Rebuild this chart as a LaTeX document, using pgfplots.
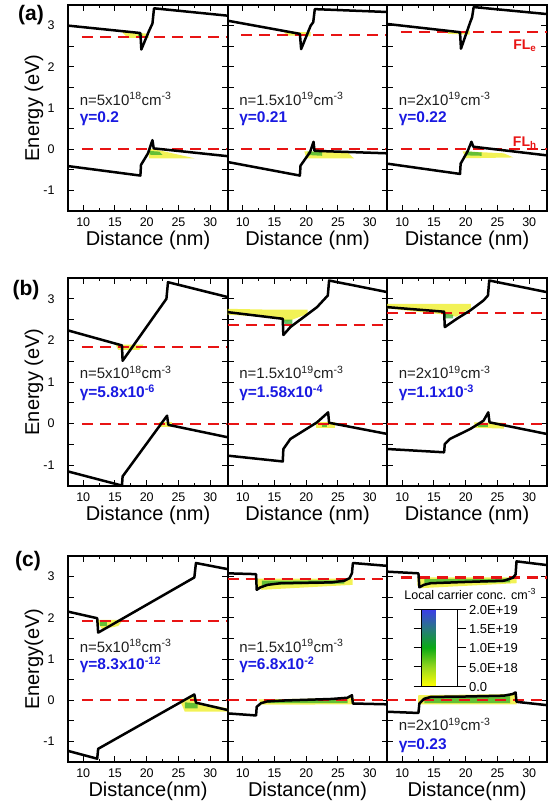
\documentclass[border=0pt]{standalone}
\usepackage{pgfplots}
\pgfplotsset{compat=1.18}
\usepackage{fontspec}
\setmainfont{Liberation Sans}
\definecolor{fl}{RGB}{232,20,20}
\definecolor{gblue}{RGB}{25,25,225}
\definecolor{cy}{RGB}{238,238,30}
\definecolor{cg}{RGB}{40,170,40}
\definecolor{ntext}{RGB}{30,30,30}
\newcommand{\tfont}{\fontsize{12.5}{14}\selectfont}
\newcommand{\lfont}{\fontsize{20}{24}\selectfont}
\newcommand{\afont}{\fontsize{15}{18}\selectfont}
\newcommand{\gfont}{\fontsize{15.5}{18}\selectfont}
\newcommand{\cfont}{\fontsize{13}{15}\selectfont}
\tikzset{
 ntxt/.style={anchor=west, font=\afont, text=ntext},
 gtxt/.style={anchor=west, font=\gfont\bfseries, text=gblue},
}
\pgfplotsset{
 panel/.style={scale only axis, width=160pt, height=206pt,
  xmin=7.6, xmax=32.8, ymin=-1.5, ymax=3.5, anchor=north west,
  xtick={10,15,20,25,30}, minor xtick={12.5,17.5,22.5,27.5},
  xticklabels={10,15,20,25,30},
  ytick={-1,-0.5,...,3}, yticklabels={},
  tick align=inside, major tick length=6pt, minor tick length=3pt,
  axis line style={line width=1.3pt},
  every tick/.style={black, line width=1pt},
  xticklabel style={font=\tfont, yshift=-3pt},
  yticklabel style={font=\tfont, xshift=-10pt},
  xlabel style={font=\lfont, at={(axis description cs:0.5,-0.14)}, anchor=center},
  ylabel style={font=\lfont, at={(axis description cs:-0.2125,0.5)}, anchor=center},
 },
 first/.style={yticklabels={-1,,0,,1,,2,,3}},
 band/.style={black, line width=2.5pt, line join=round},
 fermi/.style={fl, line width=2.2pt, dash pattern=on 11pt off 7pt},
 shY/.style={fill=cy, draw=none, fill opacity=0.75},
 shG/.style={fill=cg, draw=none, fill opacity=0.7},
}
\begin{document}
\begin{tikzpicture}
% ---------------- Row (a) ----------------
\begin{axis}[panel, first, at={(68pt,-5pt)}, xlabel={Distance (nm)}, ylabel={Energy (eV)}]
\addplot[shY] coordinates {(16,2.86)(19,2.82)(20.3,2.8)(20.3,2.7)(17,2.7)} --cycle;
\addplot[shG] coordinates {(18.6,2.82)(19.3,2.8)(19.3,2.72)(18.6,2.74)} --cycle;
\addplot[shY] coordinates {(20.2,0.0)(21.2,0.0)(27.5,-0.22)(20.4,-0.22)} --cycle;
\addplot[shG] coordinates {(20.4,-0.04)(22,-0.06)(22.5,-0.14)(20.6,-0.14)} --cycle;
\addplot[fermi] coordinates {(9.8,2.73)(32.8,2.73)};
\addplot[fermi] coordinates {(9.8,0)(32.8,0)};
\addplot[band] coordinates {(7.6,3.0)(19.0,2.82)(19.15,2.42)(20.3,2.85)(20.9,3.05)(21.15,3.42)(32.8,3.24)};
\addplot[band] coordinates {(7.6,-0.41)(19.0,-0.64)(19.1,-0.38)(20.2,-0.1)(20.9,0.22)(21.1,0.02)(32.8,-0.17)};
\node[ntxt] at (axis cs:8.9,1.22) {n=5x10\textsuperscript{18}cm\textsuperscript{-3}};
\node[gtxt] at (axis cs:8.9,0.73) {γ=0.2};
\end{axis}
\begin{axis}[panel, at={(227.5pt,-5pt)}, xlabel={Distance (nm)}]
\addplot[shY] coordinates {(16.3,2.88)(19.0,2.84)(20.7,2.84)(20.7,2.74)(17,2.76)} --cycle;
\addplot[shG] coordinates {(18.4,2.82)(19.2,2.82)(19.2,2.75)(18.4,2.76)} --cycle;
\addplot[shY] coordinates {(19.7,-0.05)(26.5,-0.08)(27.5,-0.22)(20,-0.22)} --cycle;
\addplot[shG] coordinates {(20.2,-0.05)(22.5,-0.07)(22.5,-0.16)(20.2,-0.14)} --cycle;
\addplot[fermi] coordinates {(9.8,2.78)(32.8,2.78)};
\addplot[fermi] coordinates {(9.8,0)(32.8,0)};
\addplot[band] coordinates {(7.6,3.12)(19.0,2.8)(19.2,2.43)(20.7,3.0)(21.1,3.08)(21.35,3.4)(32.8,3.33)};
\addplot[band] coordinates {(7.6,-0.31)(19.0,-0.64)(19.1,-0.4)(20.6,-0.07)(21.15,0.18)(21.3,-0.04)(32.8,-0.1)};
\node[ntxt] at (axis cs:8.9,1.22) {n=1.5x10\textsuperscript{19}cm\textsuperscript{-3}};
\node[gtxt] at (axis cs:8.9,0.73) {γ=0.21};
\end{axis}
\begin{axis}[panel, at={(387pt,-5pt)}, xlabel={Distance (nm)}]
\addplot[shY] coordinates {(17.2,2.88)(19.2,2.86)(20.6,2.88)(20.6,2.78)(17.2,2.8)} --cycle;
\addplot[shG] coordinates {(18.8,2.86)(19.3,2.86)(19.3,2.79)(18.8,2.79)} --cycle;
\addplot[shY] coordinates {(19.5,-0.05)(26,-0.1)(27.5,-0.2)(20,-0.22)} --cycle;
\addplot[shG] coordinates {(20,-0.05)(22.5,-0.08)(22.5,-0.16)(20,-0.15)} --cycle;
\addplot[fermi] coordinates {(9.8,2.84)(32.8,2.84)};
\addplot[fermi] coordinates {(9.8,0)(32.8,0)};
\addplot[band] coordinates {(7.6,3.04)(19.1,2.84)(19.25,2.44)(20.7,3.08)(21.0,3.2)(21.25,3.45)(32.8,3.28)};
\addplot[band] coordinates {(7.6,-0.35)(19.1,-0.6)(19.2,-0.35)(20.3,-0.05)(20.9,0.18)(21.2,0.06)(32.8,-0.15)};
\node[ntxt] at (axis cs:8.9,1.22) {n=2x10\textsuperscript{19}cm\textsuperscript{-3}};
\node[gtxt] at (axis cs:8.9,0.73) {γ=0.22};
\node[anchor=base, font=\fontsize{14}{16}\selectfont\bfseries, text=fl] at (axis cs:29.3,2.43) {FL\textsubscript{e}};
\node[anchor=base, font=\fontsize{14}{16}\selectfont\bfseries, text=fl] at (axis cs:29.3,0.06) {FL\textsubscript{h}};
\end{axis}
% ---------------- Row (b) ----------------
\begin{axis}[panel, first, height=208pt, at={(68pt,-278pt)}, xlabel={Distance (nm)}, ylabel={Energy (eV)}]
\addplot[shY] coordinates {(15,1.92)(16.1,1.9)(19.5,1.9)(18.8,1.77)(15.5,1.77)} --cycle;
\addplot[shY] coordinates {(22,0.03)(24,0.03)(24,-0.07)(22,-0.07)} --cycle;
\addplot[fermi] coordinates {(9.8,1.85)(32.8,1.85)};
\addplot[fermi] coordinates {(9.8,0)(32.8,0)};
\addplot[band] coordinates {(7.6,2.24)(16.1,1.88)(16.2,1.51)(23.1,3.0)(23.35,3.4)(32.8,3.04)};
\addplot[band] coordinates {(7.6,-1.15)(16.1,-1.49)(16.2,-1.27)(23.2,0.19)(23.4,-0.03)(32.8,-0.33)};
\node[ntxt] at (axis cs:8.9,1.24) {n=5x10\textsuperscript{18}cm\textsuperscript{-3}};
\node[gtxt] at (axis cs:8.9,0.74) {γ=5.8x10\textsuperscript{-6}};
\end{axis}
\begin{axis}[panel, height=208pt, at={(227.5pt,-278pt)}, xlabel={Distance (nm)}]
\addplot[shY] coordinates {(7.6,2.62)(7.6,2.76)(14,2.74)(20.2,2.74)(20.2,2.64)(17,2.45)(16.4,2.5)(12,2.58)} --cycle;
\addplot[shG] coordinates {(16.4,2.5)(17.8,2.5)(17.8,2.4)(16.6,2.4)} --cycle;
\addplot[shY] coordinates {(21.5,0.03)(24.5,0.03)(24.5,-0.1)(21.5,-0.1)} --cycle;
\addplot[shG] coordinates {(22.5,0.02)(23.3,0.02)(23.3,-0.08)(22.5,-0.08)} --cycle;
\addplot[fermi] coordinates {(7.6,2.37)(32.8,2.37)};
\addplot[fermi] coordinates {(7.6,0)(32.8,0)};
\addplot[band] coordinates {(7.6,2.68)(16.3,2.52)(16.4,2.13)(17.5,2.32)(19.6,2.56)(21.7,2.8)(23.4,3.08)(23.6,3.44)(32.8,3.16)};
\addplot[band] coordinates {(7.6,-0.77)(16.3,-0.91)(16.4,-0.61)(17.5,-0.37)(19.6,-0.17)(21.7,0.03)(23.45,0.27)(23.6,0.02)(32.8,-0.25)};
\node[ntxt] at (axis cs:8.9,1.24) {n=1.5x10\textsuperscript{19}cm\textsuperscript{-3}};
\node[gtxt] at (axis cs:8.9,0.74) {γ=1.58x10\textsuperscript{-4}};
\end{axis}
\begin{axis}[panel, height=208pt, at={(387pt,-278pt)}, xlabel={Distance (nm)}]
\addplot[shY] coordinates {(7.6,2.77)(7.6,2.88)(20.8,2.88)(20.8,2.78)(18.5,2.57)(16.7,2.62)} --cycle;
\addplot[shG] coordinates {(16.7,2.64)(18,2.62)(18,2.53)(16.8,2.53)} --cycle;
\addplot[shY] coordinates {(21.3,0.03)(26,0.02)(26,-0.12)(21.5,-0.1)} --cycle;
\addplot[shG] coordinates {(22,0.02)(23.5,0.02)(23.5,-0.08)(22,-0.08)} --cycle;
\addplot[fermi] coordinates {(7.6,2.66)(32.8,2.66)};
\addplot[fermi] coordinates {(7.6,0)(32.8,0)};
\addplot[band] coordinates {(7.6,2.8)(16.6,2.69)(16.7,2.32)(18.6,2.52)(20.7,2.72)(22.8,2.96)(23.5,3.08)(23.7,3.44)(32.8,3.16)};
\addplot[band] coordinates {(7.6,-0.61)(16.6,-0.69)(16.7,-0.49)(17.5,-0.37)(20.7,-0.13)(22.8,0.07)(23.55,0.27)(23.75,0.03)(32.8,-0.25)};
\node[ntxt] at (axis cs:8.9,1.24) {n=2x10\textsuperscript{19}cm\textsuperscript{-3}};
\node[gtxt] at (axis cs:8.9,0.74) {γ=1.1x10\textsuperscript{-3}};
\end{axis}
% ---------------- Row (c) ----------------
\begin{axis}[panel, first, at={(68pt,-556pt)}, xlabel={Distance(nm)}, ylabel={Energy(eV)}]
\addplot[shY] coordinates {(12.3,1.95)(16.3,1.95)(15.5,1.8)(13,1.72)(12.4,1.85)} --cycle;
\addplot[shG] coordinates {(12.6,1.9)(13.8,1.9)(13.8,1.8)(12.6,1.8)} --cycle;
\addplot[shY] coordinates {(25.2,0)(27.5,0.1)(27.7,-0.05)(32.8,-0.2)(32.8,-0.28)(26,-0.28)} --cycle;
\addplot[shG] coordinates {(26,-0.05)(28,-0.08)(28,-0.2)(26,-0.2)} --cycle;
\addplot[fermi] coordinates {(9.8,1.93)(32.8,1.93)};
\addplot[fermi] coordinates {(9.8,0)(32.8,0)};
\addplot[band] coordinates {(7.6,2.15)(12.2,1.99)(12.35,1.64)(27.5,2.98)(27.75,3.33)(32.8,3.18)};
\addplot[band] coordinates {(7.6,-1.23)(12.2,-1.42)(12.35,-1.18)(27.5,0.14)(27.75,-0.06)(32.8,-0.24)};
\node[ntxt] at (axis cs:8.9,1.32) {n=5x10\textsuperscript{18}cm\textsuperscript{-3}};
\node[gtxt] at (axis cs:8.9,0.85) {γ=8.3x10\textsuperscript{-12}};
\end{axis}
\begin{axis}[panel, at={(227.5pt,-556pt)}, xlabel={Distance(nm)}]
\addplot[shY] coordinates {(12.3,2.95)(27.3,2.95)(27.3,2.8)(13,2.68)(12.3,2.75)} --cycle;
\addplot[shG] coordinates {(13,2.9)(26,2.91)(26,2.83)(13,2.8)} --cycle;
\addplot[shY] coordinates {(12.5,0.02)(27.5,0.05)(27.5,-0.1)(13,-0.11)} --cycle;
\addplot[shG] coordinates {(14,0.0)(26.5,0.02)(26.5,-0.07)(14,-0.07)} --cycle;
\addplot[fermi] coordinates {(7.6,2.94)(32.8,2.94)};
\addplot[fermi] coordinates {(7.6,0)(32.8,0)};
\addplot[band] coordinates {(7.6,3.08)(12.1,3.06)(12.2,2.68)(12.8,2.74)(13.9,2.8)(16,2.84)(24,2.86)(26,2.9)(26.8,2.96)(27.2,3.08)(27.35,3.33)(32.8,3.26)};
\addplot[band] coordinates {(7.6,-0.32)(12.1,-0.37)(12.2,-0.16)(12.9,-0.07)(13.9,-0.03)(16,-0.01)(24,0.03)(26.5,0.06)(27.2,0.12)(27.35,-0.08)(32.8,-0.1)};
\node[ntxt] at (axis cs:8.9,1.32) {n=1.5x10\textsuperscript{19}cm\textsuperscript{-3}};
\node[gtxt] at (axis cs:8.9,0.85) {γ=6.8x10\textsuperscript{-2}};
\end{axis}
\begin{axis}[panel, at={(387pt,-556pt)}, xlabel={Distance(nm)},
  colormap={carrier}{rgb255=(255,255,0) rgb255=(150,215,30) rgb255=(10,170,20) rgb255=(40,120,130) rgb255=(60,60,235)},
  colorbar, point meta min=0, point meta max=20,
  colorbar style={at={(parent axis.north west)}, anchor=north west, xshift=26pt, yshift=-53pt,
    scale only axis, width=36pt, height=77pt,
    ytick={0,5,10,15,20}, yticklabels={0.0,5.0E+18,1.0E+19,1.5E+19,2.0E+19},
    yticklabel style={font=\cfont, yshift=-1pt},
    tick align=outside, major tick length=8pt,
    axis line style={line width=1pt}, every tick/.style={black, line width=1pt}}]
\addplot[shY] coordinates {(12.4,2.98)(28,2.98)(28,2.84)(13,2.72)(12.4,2.78)} --cycle;
\addplot[shG] coordinates {(13.5,2.94)(27,2.95)(27,2.86)(13.5,2.84)} --cycle;
\addplot[shY] coordinates {(12.5,0.12)(28,0.15)(28,-0.1)(12.5,-0.1)} --cycle;
\addplot[shG] coordinates {(13.5,0.08)(27,0.1)(27,-0.07)(13.5,-0.07)} --cycle;
\addplot[fermi] coordinates {(9.8,2.98)(32.8,2.98)};
\addplot[fermi] coordinates {(7.6,0)(32.8,0)};
\addplot[band] coordinates {(7.6,3.12)(12.55,3.08)(12.7,2.74)(13.4,2.8)(14.5,2.84)(20,2.87)(26,2.9)(27.4,2.97)(27.85,3.05)(28.0,3.37)(32.8,3.28)};
\addplot[band] coordinates {(7.6,-0.28)(12.55,-0.31)(12.7,-0.08)(13.4,0.03)(14.5,0.08)(20,0.09)(26,0.11)(27.4,0.15)(27.85,0.19)(28.0,-0.04)(32.8,-0.12)};
\node[font=\fontsize{12.5}{14}\selectfont] at (rel axis cs:0.52,0.815) {Local carrier conc. cm\textsuperscript{-3}};
\node[ntxt] at (axis cs:8.9,-0.58) {n=2x10\textsuperscript{19}cm\textsuperscript{-3}};
\node[gtxt] at (axis cs:8.9,-1.11) {γ=0.23};
\end{axis}
% panel labels
\node[font=\fontsize{21}{24}\selectfont\bfseries] at (31pt,-15.5pt) {(a)};
\node[font=\fontsize{21}{24}\selectfont\bfseries] at (26pt,-290pt) {(b)};
\node[font=\fontsize{21}{24}\selectfont\bfseries] at (28pt,-561pt) {(c)};
\pgfresetboundingbox
\path[use as bounding box] (0pt,0pt) rectangle (556pt,-807pt);
\end{tikzpicture}
\end{document}
